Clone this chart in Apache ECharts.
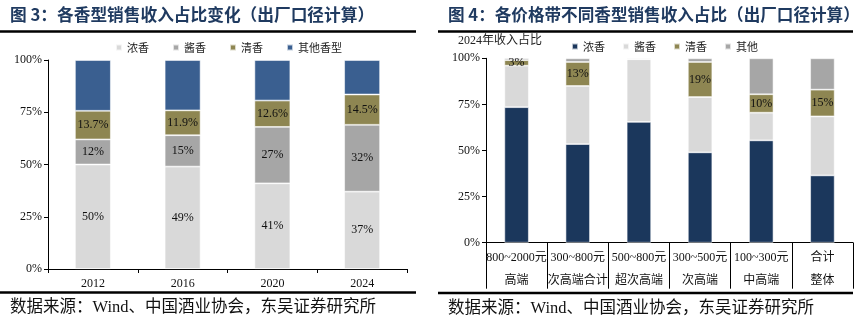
<!DOCTYPE html>
<html><head><meta charset="utf-8">
<script src="https://cdn.jsdelivr.net/npm/echarts@6/dist/echarts.min.js"></script>
<style>html,body{margin:0;padding:0;background:#fff;}#c{width:865px;height:326px;}</style>
</head><body><div id="c"></div>
<script>
// ---- Data ----
const yearCats = ['2012', '2016', '2020', '2024'];
const yearNong = [50, 49, 41, 37];
const yearJiang = [12, 15, 27, 32];
const yearQing = [13.7, 11.9, 12.6, 14.5];
const yearOther = [24.3, 24.1, 19.4, 16.5];

const priceCats = ['800~2000元\n高端', '300~800元\n次高端合计', '500~800元\n超次高端', '300~500元\n次高端', '100~300元\n中高端', '合计\n整体'];
const priceNong = [73.5, 53.5, 65.5, 49, 55.5, 36.5];
const priceJiang = [22.5, 31.5, 34, 30, 15, 32];
const priceQing = [3, 13, 0, 19, 10, 14.5];
const priceOther = [1, 2, 0.5, 2, 19.5, 17];

const pctTicks = [0, 25, 50, 75, 100];

// ---- Styles ----
const SERIF = '"Liberation Serif", "Times New Roman", "Noto Sans CJK SC", serif';
const CJK = '"Noto Sans CJK SC", sans-serif';
const C_LIGHT = '#D9D9D9', C_MID = '#A6A6A6', C_OLIVE = '#8E8652', C_BLUE = '#3A5F90', C_NAVY = '#1B375C';
const border = {borderColor: 'rgba(255,255,255,0.7)', borderWidth: 0.8};

const chart = echarts.init(document.getElementById('c'), null, {renderer: 'canvas'});

function lbl(fmt) {
  return {show: true, position: 'inside', color: '#111', fontFamily: SERIF, fontSize: 12, formatter: fmt};
}
const leftFmt = p => p.value + '%';
const rightFmt = p => p.value > 0 ? Math.round(p.value) + '%' : '';

const yAxisBase = {
  type: 'value', min: pctTicks[0], max: pctTicks[pctTicks.length - 1], interval: 25,
  axisLine: {show: true, lineStyle: {color: '#000', width: 1}},
  axisTick: {show: true, length: 4, lineStyle: {color: '#000'}},
  splitLine: {show: false},
  axisLabel: {formatter: '{value}%', color: '#111', fontFamily: SERIF, fontSize: 12, margin: 6}
};

chart.setOption({
  animation: false,
  grid: [
    {left: 48, right: 458, top: 60, bottom: 57},
    {left: 486, right: 12, top: 58.3, bottom: 83.3}
  ],
  legend: [
    {
      left: 110, top: 37, itemWidth: 6, itemHeight: 6, itemGap: 23, icon: 'rect',
      textStyle: {fontFamily: CJK, fontSize: 11, color: '#222'},
      data: [
        {name: '浓香', itemStyle: {color: C_LIGHT}},
        {name: '酱香', itemStyle: {color: C_MID}},
        {name: '清香', itemStyle: {color: C_OLIVE}},
        {name: '其他香型', itemStyle: {color: C_BLUE}}
      ]
    },
    {
      left: 566, top: 36, itemWidth: 6, itemHeight: 6, itemGap: 17, icon: 'rect',
      textStyle: {fontFamily: CJK, fontSize: 11, color: '#222'},
      data: [
        {name: '浓香', itemStyle: {color: C_NAVY}},
        {name: '酱香', itemStyle: {color: C_LIGHT}},
        {name: '清香', itemStyle: {color: C_OLIVE}},
        {name: '其他', itemStyle: {color: C_MID}}
      ]
    }
  ],
  xAxis: [
    {
      type: 'category', gridIndex: 0, data: yearCats,
      axisLine: {lineStyle: {color: '#000'}},
      axisTick: {show: true, length: 4, lineStyle: {color: '#000'}},
      axisLabel: {color: '#111', fontFamily: SERIF, fontSize: 12, margin: 9}
    },
    {
      type: 'category', gridIndex: 1, data: priceCats,
      axisLine: {lineStyle: {color: '#000'}},
      axisTick: {show: true, length: 46, lineStyle: {color: '#000'}},
      axisLabel: {color: '#111', fontFamily: SERIF, fontSize: 12, margin: 4, lineHeight: 23, interval: 0}
    }
  ],
  yAxis: [
    Object.assign({gridIndex: 0}, yAxisBase),
    Object.assign({gridIndex: 1}, yAxisBase)
  ],
  series: [
    {name: '浓香', type: 'bar', stack: 'L', xAxisIndex: 0, yAxisIndex: 0, barWidth: '40%', data: yearNong,
     itemStyle: Object.assign({color: C_LIGHT}, border), label: lbl(leftFmt)},
    {name: '酱香', type: 'bar', stack: 'L', xAxisIndex: 0, yAxisIndex: 0, barWidth: '40%', data: yearJiang,
     itemStyle: Object.assign({color: C_MID}, border), label: lbl(leftFmt)},
    {name: '清香', type: 'bar', stack: 'L', xAxisIndex: 0, yAxisIndex: 0, barWidth: '40%', data: yearQing,
     itemStyle: Object.assign({color: C_OLIVE}, border), label: lbl(leftFmt)},
    {name: '其他香型', type: 'bar', stack: 'L', xAxisIndex: 0, yAxisIndex: 0, barWidth: '40%', data: yearOther,
     itemStyle: Object.assign({color: C_BLUE}, border)},

    {name: '浓香', type: 'bar', stack: 'R', xAxisIndex: 1, yAxisIndex: 1, barWidth: '40%', data: priceNong,
     itemStyle: Object.assign({color: C_NAVY}, border)},
    {name: '酱香', type: 'bar', stack: 'R', xAxisIndex: 1, yAxisIndex: 1, barWidth: '40%', data: priceJiang,
     itemStyle: Object.assign({color: C_LIGHT}, border)},
    {name: '清香', type: 'bar', stack: 'R', xAxisIndex: 1, yAxisIndex: 1, barWidth: '40%', data: priceQing,
     itemStyle: Object.assign({color: C_OLIVE}, border), label: lbl(rightFmt)},
    {name: '其他', type: 'bar', stack: 'R', xAxisIndex: 1, yAxisIndex: 1, barWidth: '40%', data: priceOther,
     itemStyle: Object.assign({color: C_MID}, border)}
  ],
  graphic: [
    {type: 'text', left: 10, top: 6, style: {text: '图 3：各香型销售收入占比变化（出厂口径计算）', fill: '#1F3A60', font: 'bold 16.7px ' + CJK}},
    {type: 'text', left: 448, top: 6, style: {text: '图 4：各价格带不同香型销售收入占比（出厂口径计算）', fill: '#1F3A60', font: 'bold 16.6px ' + CJK}},
    {type: 'line', shape: {x1: 0, y1: 31.5, x2: 416, y2: 31.5}, style: {stroke: '#000', lineWidth: 2.5}},
    {type: 'line', shape: {x1: 438, y1: 31.5, x2: 853, y2: 31.5}, style: {stroke: '#000', lineWidth: 2.5}},
    {type: 'text', left: 458, top: 35, style: {text: '2024年收入占比', fill: '#222', font: '12px ' + SERIF}},
    {type: 'line', shape: {x1: 0, y1: 292.5, x2: 416, y2: 292.5}, style: {stroke: '#000', lineWidth: 2.5}},
    {type: 'line', shape: {x1: 438, y1: 293, x2: 853, y2: 293}, style: {stroke: '#000', lineWidth: 2.5}},
    {type: 'text', left: 10, top: 299, style: {text: '数据来源：Wind、中国酒业协会，东吴证券研究所', fill: '#111', font: '16.5px ' + SERIF}},
    {type: 'text', left: 448, top: 300, style: {text: '数据来源：Wind、中国酒业协会，东吴证券研究所', fill: '#111', font: '16.5px ' + SERIF}}
  ]
});
</script></body></html>
